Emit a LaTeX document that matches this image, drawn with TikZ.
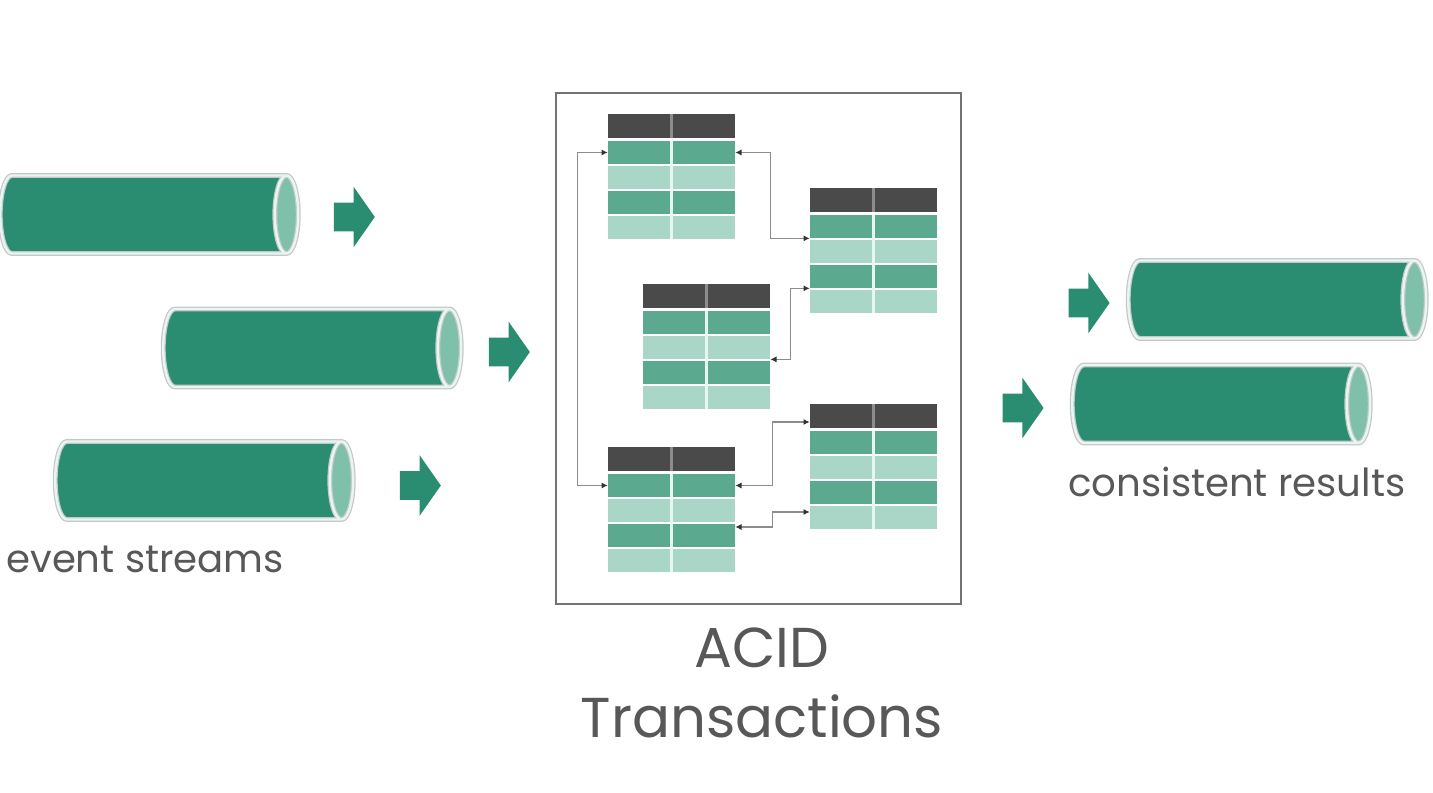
\documentclass[tikz,border=0pt]{standalone}
\usepackage{fontspec}
\setmainfont{Poppins}
\usepackage{tikz}
\usetikzlibrary{shapes.geometric, shapes.arrows, arrows.meta, positioning}

\definecolor{streamgreen}{HTML}{2A8C70}
\definecolor{streamend}{HTML}{7FC0AA}
\definecolor{streamrim}{HTML}{E6F6F0}
\definecolor{hdgray}{HTML}{4A4A4A}
\definecolor{rowdark}{HTML}{5BAA90}
\definecolor{rowlight}{HTML}{AAD6C8}
\definecolor{labelgray}{HTML}{585858}

% one table: name, left x, top y
\newcommand\dbtable[3]{%
  \node[hdrow] (#1-h) at (#2+1.27,#3-0.24) {};
  \foreach \r/\s in {1/darkrow,2/lightrow,3/darkrow,4/lightrow}
    \node[\s] (#1-\r) at (#2+1.27,#3-0.27-0.5*\r) {};
  \draw[hdsep] (#1-h.north) -- (#1-h.south);
  \draw[rowsep] (#1-1.north) -- (#1-4.south);
}

\begin{document}
\begin{tikzpicture}[
    font=\fontsize{22}{26}\selectfont,
    % styles
    stream/.style={cylinder, shape border rotate=0, aspect=0.3, inner xsep=0pt, inner ysep=0.78cm,
      minimum width=1.56cm, minimum height=5.96cm, anchor=west,
      cylinder uses custom fill, cylinder body fill=streamgreen, cylinder end fill=streamend,
      draw=streamrim, line width=1.4pt, preaction={draw=black!22, line width=2.8pt}},
    flow/.style={single arrow, fill=streamgreen, inner xsep=0pt, inner ysep=0.28cm,
      minimum height=0.82cm, minimum width=1.2cm,
      single arrow head extend=0.32cm, single arrow tip angle=110},
    hdrow/.style={rectangle, fill=hdgray, inner sep=0pt, minimum width=2.54cm, minimum height=0.48cm},
    darkrow/.style={rectangle, fill=rowdark, inner sep=0pt, minimum width=2.54cm, minimum height=0.46cm},
    lightrow/.style={rectangle, fill=rowlight, inner sep=0pt, minimum width=2.54cm, minimum height=0.46cm},
    hdsep/.style={draw=black!45, line width=1.2pt},
    rowsep/.style={draw=streamrim, line width=1.2pt},
    conn/.style={{Latex[length=3.5pt,width=3.5pt,color=black!80]}-{Latex[length=3.5pt,width=3.5pt,color=black!80]}, draw=black!45, line width=0.6pt},
    acidbox/.style={rectangle, draw=black!55, line width=0.8pt, minimum width=8.1cm, minimum height=10.22cm},
    caption/.style={text=labelgray, inner sep=0pt}
]
\useasboundingbox (0,0) rectangle (28.66,-15.86);

% event streams
\node[stream] (evt1) at (-0.02,-4.29) {};
\node[stream] (evt2) at (3.24,-6.96) {};
\node[stream] (evt3) at (1.08,-9.61) {};
\node[flow, right=0.68cm of evt1, yshift=-0.05cm] (in1) {};
\node[flow, right=0.52cm of evt2, yshift=-0.08cm] (in2) {};
\node[flow, right=0.9cm of evt3, yshift=-0.1cm] (in3) {};
\node[caption, anchor=base west] (evtlbl) at (0.12,-11.46) {event streams};

% transactions box
\node[acidbox] (acid) at (15.17,-6.97) {};
\dbtable{A}{12.16}{-2.28}
\dbtable{B}{16.20}{-3.76}
\dbtable{C}{12.86}{-5.68}
\dbtable{D}{16.20}{-8.08}
\dbtable{E}{12.16}{-8.94}

\draw[conn] (A-1.west) -- ++(-0.6,0) |- (E-1.west);
\draw[conn] (A-1.east) -- ++(0.7,0) |- (B-1.south west);
\draw[conn] (C-2.south east) -- ++(0.4,0) |- (B-3.south west);
\draw[conn] (E-1.east) -- ++(0.74,0) |- ([yshift=-0.12cm]D-h.west);
\draw[conn] ([yshift=0.17cm]E-3.east) -- ++(0.74,0) |- ([yshift=0.11cm]D-4.west);

\node[caption, anchor=north, align=center, font=\fontsize{32}{40}\selectfont] (acidlbl) at (15.24,-12.54) {ACID\\Transactions};

% consistent results
\node[stream] (res1) at (22.54,-5.99) {};
\node[stream] (res2) at (21.42,-8.08) {};
\node[flow, left=0.34cm of res1, yshift=-0.07cm] (out1) {};
\node[flow, left=0.54cm of res2, yshift=-0.08cm] (out2) {};
\node[caption, anchor=base west] (reslbl) at (21.36,-9.94) {consistent results};

\end{tikzpicture}
\end{document}
